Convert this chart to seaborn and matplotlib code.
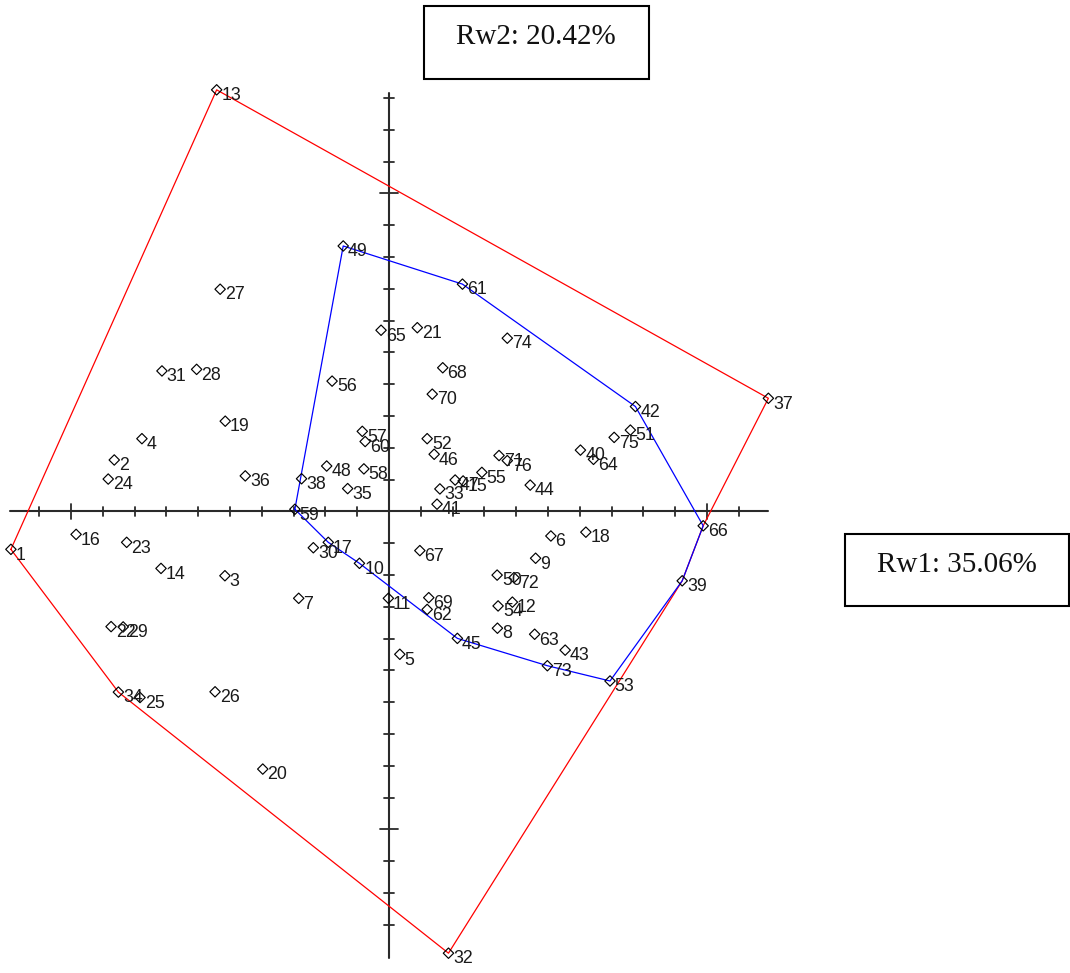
import numpy as np
import pandas as pd
import matplotlib
matplotlib.use("Agg")
import matplotlib.pyplot as plt
import seaborn as sns
from matplotlib.patches import Rectangle

# Sample scores on the two retained axes (Rw1 horizontal, Rw2 vertical)
sample_ids = list(range(1, 77))
rw1 = [-11.89, -8.64, -5.16, -7.77, 0.34, 5.09, -2.84, 3.41, 4.61, -0.93,
       -0.02, 3.88, -5.42, -7.17, 2.33, -9.84, -1.91, 6.19, -5.15, -3.97,
       0.89, -8.74, -8.25, -8.83, -7.83, -5.47, -5.31, -6.05, -8.36, -2.38,
       -7.14, 1.87, 1.60, -8.51, -1.30, -4.52, 11.93, -2.75, 9.22, 6.02,
       1.51, 7.75, 5.54, 4.44, 2.15, 1.42, 2.08, -1.96, -1.44, 3.40,
       7.59, 1.20, 6.95, 3.43, 2.92, -1.79, -0.84, -0.79, -2.96, -0.75,
       2.31, 1.20, 4.58, 6.43, -0.25, 9.88, 0.97, 1.69, 1.25, 1.36,
       3.46, 3.93, 4.98, 3.72, 7.08, 3.72]
rw2 = [-1.19, 1.62, -2.02, 2.29, -4.49, -0.77, -2.73, -3.67, -1.47, -1.63,
       -2.73, -2.85, 13.26, -1.79, 0.96, -0.72, -0.97, -0.65, 2.84, -8.10,
       5.78, -3.62, -0.97, 1.02, -5.85, -5.67, 6.99, 4.47, -3.63, -1.14,
       4.42, -13.89, 0.71, -5.68, 0.72, 1.12, 3.56, 1.03, -2.18, 1.93,
       0.23, 3.30, -4.36, 0.83, -3.99, 1.80, 0.99, 1.43, 8.35, -2.00,
       2.56, 2.29, -5.33, -2.97, 1.23, 4.10, 2.52, 1.34, 0.07, 2.20,
       7.15, -3.08, -3.86, 1.64, 5.70, -0.45, -1.23, 4.52, -2.71, 3.69,
       1.76, -2.08, -4.85, 5.45, 2.33, 1.60]

# Hull outlines, listed as sample ids in drawing order
red_hull = [1, 13, 37, 66, 39, 32, 34]
blue_hull = [59, 49, 61, 42, 66, 39, 53, 73, 45, 10, 17]

# Cross-shaped axes with unit ticks and a long tick every ten units
x_axis_span = (-11.92, 11.92)
y_axis_span = (-14.03, 13.15)
x_ticks = list(range(-11, 12))
y_ticks = list(range(-13, 14))
major_step = 10

axis_titles = ["Rw1: 35.06%", "Rw2: 20.42%"]

df = pd.DataFrame({"id": sample_ids, "Rw1": rw1, "Rw2": rw2})
pos = df.set_index("id")

W, H = 1070, 973
sns.set_theme(style="white")
plt.rcParams["font.family"] = ["Liberation Sans", "DejaVu Sans"]

fig = plt.figure(figsize=(W / 100, H / 100), dpi=100)
ax = fig.add_axes([0, 0, 1, 1])
ax.axis("off")

axis_color = "#2a2a2a"
ax.plot(x_axis_span, [0, 0], color=axis_color, lw=1.5, zorder=1)
ax.plot([0, 0], y_axis_span, color=axis_color, lw=1.5, zorder=1)
for t in x_ticks:
    h = 0.25 if t % major_step == 0 else 0.145
    ax.plot([t, t], [-h, h], color=axis_color, lw=1.3, zorder=1)
for t in y_ticks:
    h = 0.27 if t % major_step == 0 else 0.165
    ax.plot([-h, h], [t, t], color=axis_color, lw=1.3, zorder=1)

for hull, col in ((red_hull, "#ff0000"), (blue_hull, "#0000ff")):
    ring = hull + hull[:1]
    ax.plot(pos.loc[ring, "Rw1"], pos.loc[ring, "Rw2"], color=col, lw=0.9, zorder=2)

sns.scatterplot(data=df, x="Rw1", y="Rw2", marker="D", s=28, color="black",
                edgecolor="black", linewidth=0.85, ax=ax, zorder=3, legend=False)
ax.collections[-1].set_facecolor("none")
ax.set_xlim(-12.233, 21.415)
ax.set_ylim(-14.513, 16.085)

for sid, x, y in zip(sample_ids, rw1, rw2):
    ax.annotate(str(sid), (x, y), xytext=(3.4, -7.4), textcoords="offset points",
                ha="left", va="baseline", fontsize=12.8, color="#1a1a1a", zorder=4)


def fig_box(x0, y0, x1, y1):
    rect = Rectangle((x0 / W, 1 - y1 / H), (x1 - x0) / W, (y1 - y0) / H,
                     transform=fig.transFigure, fill=False, ec="black", lw=1.5)
    fig.add_artist(rect)


fig_box(423.5, 6, 648.5, 78.5)
fig.text(535.5 / W, 1 - 44 / H, axis_titles[1], ha="center", va="baseline",
         fontsize=21, family=["Liberation Serif", "DejaVu Serif"], color="#111111")
fig_box(845, 534, 1068.5, 606)
fig.text(957 / W, 1 - 571.5 / H, axis_titles[0], ha="center", va="baseline",
         fontsize=21, family=["Liberation Serif", "DejaVu Serif"], color="#111111")

fig.savefig("out.png", dpi=100)
